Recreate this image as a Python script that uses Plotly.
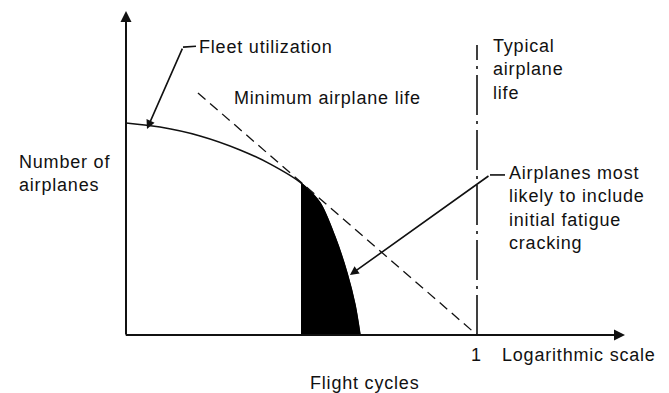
import plotly.graph_objects as go

# Flight cycles on a log scale, normalised so that typical airplane life = 1;
# number of airplanes normalised so that the fleet size at entry = 1.
fleet_x = [0.0, 0.097, 0.211, 0.325, 0.410, 0.4986, 0.5527, 0.5954, 0.6296, 0.6524, 0.6667]
fleet_y = [1.0, 0.981, 0.939, 0.873, 0.807, 0.717, 0.623, 0.462, 0.292, 0.142, 0.0]

# Minimum airplane life (dashed line)
min_life_x = [0.205, 1.0]
min_life_y = [1.142, 0.0]

# Typical airplane life
typical_life = 1.0
typical_top = 1.368

INK = "#111111"
FONT = "Liberation Sans"
SP = "letter-spacing:0.8px"


def spaced(*lines):
    return "<br>".join(f"<span style='{SP}'>{ln}</span>" for ln in lines)


fig = go.Figure()

# Fleet utilization curve
fig.add_trace(go.Scatter(
    x=fleet_x, y=fleet_y, mode="lines",
    line=dict(color=INK, width=1.6, shape="spline", smoothing=0.8),
    hoverinfo="skip", showlegend=False))

# Shaded part: airplanes beyond minimum life
i0 = fleet_x.index(0.4986)
fig.add_trace(go.Scatter(
    x=fleet_x[i0:], y=fleet_y[i0:], mode="lines",
    line=dict(color="black", width=1.2, shape="spline", smoothing=0.8),
    fill="tozeroy", fillcolor="black",
    hoverinfo="skip", showlegend=False))

# Minimum airplane life
fig.add_trace(go.Scatter(
    x=min_life_x, y=min_life_y, mode="lines",
    line=dict(color=INK, width=1.3, dash="10px,6px"),
    hoverinfo="skip", showlegend=False))

# Typical airplane life
fig.add_trace(go.Scatter(
    x=[typical_life, typical_life], y=[0, typical_top], mode="lines",
    line=dict(color=INK, width=1.6, dash="40px,6px,3px,6px"),
    hoverinfo="skip", showlegend=False))

# Short horizontal parts of the leader lines
fig.add_trace(go.Scatter(
    x=[0.1994, 0.1624], y=[1.362, 1.358], mode="lines",
    line=dict(color=INK, width=1.6), hoverinfo="skip", showlegend=False))
fig.add_trace(go.Scatter(
    x=[1.0798, 1.037], y=[0.755, 0.755], mode="lines",
    line=dict(color=INK, width=1.6), hoverinfo="skip", showlegend=False))

arrow = dict(xref="x", yref="y", axref="x", ayref="y", text="",
             showarrow=True, arrowcolor=INK)

annotations = [
    # axes
    dict(arrow, x=0, y=1.528, ax=0, ay=-0.005, arrowhead=2, arrowsize=1.1, arrowwidth=2),
    dict(arrow, x=1.4217, y=0, ax=-0.005, ay=0, arrowhead=2, arrowsize=1.1, arrowwidth=2),
    # leaders
    dict(arrow, x=0.0598, y=0.972, ax=0.1624, ay=1.358, arrowhead=2, arrowsize=1.1, arrowwidth=1.6),
    dict(arrow, x=0.638, y=0.283, ax=1.037, ay=0.755, arrowhead=2, arrowsize=1.1, arrowwidth=1.6),
]

txt = dict(xref="x", yref="y", showarrow=False, align="left",
           font=dict(family=FONT, size=18, color=INK))

annotations += [
    dict(txt, x=0.202, y=1.360, xanchor="left", yanchor="middle",
         text=spaced("Fleet utilization")),
    dict(txt, x=0.302, y=1.118, xanchor="left", yanchor="middle",
         text=spaced("Minimum airplane life")),
    dict(txt, x=1.040, y=1.252, xanchor="left", yanchor="middle",
         text=spaced("Typical", "airplane", "life")),
    dict(txt, x=-0.311, y=0.764, xanchor="left", yanchor="middle",
         text=spaced("Number of", "airplanes")),
    dict(txt, x=1.085, y=0.598, xanchor="left", yanchor="middle",
         text=spaced("Airplanes most", "likely to include",
                     "initial fatigue", "cracking")),
    dict(txt, x=0.997, y=-0.094, xanchor="center", yanchor="middle", text="1"),
    dict(txt, x=1.0655, y=-0.094, xanchor="left", yanchor="middle",
         text=spaced("Logarithmic scale")),
    dict(txt, x=0.5185, y=-0.226, xanchor="left", yanchor="middle",
         text=spaced("Flight cycles")),
]

fig.update_layout(
    width=669, height=393,
    margin=dict(l=0, r=0, t=0, b=0),
    paper_bgcolor="white", plot_bgcolor="white",
    xaxis=dict(range=[-0.35897, 1.54701], visible=False, fixedrange=True),
    yaxis=dict(range=[-0.27358, 1.58019], visible=False, fixedrange=True),
    annotations=annotations,
    showlegend=False,
)

fig.write_html("out.html")
